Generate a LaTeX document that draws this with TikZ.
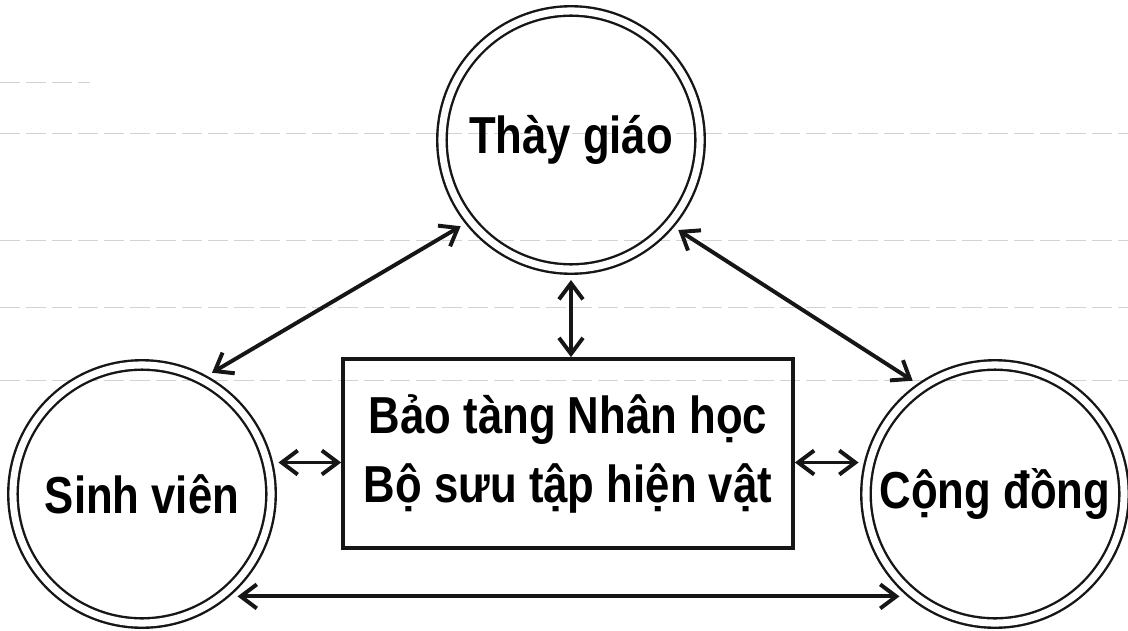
\documentclass[tikz,border=0pt]{standalone}
\usepackage{fontspec}
\setmainfont{Liberation Sans}[FakeStretch=0.84]
\usepackage{xcolor}
\usepackage{tikz}
\usetikzlibrary{arrows.meta}
\definecolor{ink}{HTML}{161616}
\definecolor{faint}{HTML}{D2D2D2}
\tikzset{
  ring/.style={circle, draw=ink, line width=1.7pt, double=white, double distance=5pt,
    minimum size=6.45cm, inner sep=0pt, outer sep=0.275cm, font=\labfont},
  museum/.style={rectangle, draw=ink, line width=2.6pt, minimum width=11.25cm,
    minimum height=4.725cm, align=center, font=\labfont},
  link/.style={draw=ink, line width=2.8pt, {Straight Barb[length=0.4cm,width=0.6cm]}-{Straight Barb[length=0.4cm,width=0.6cm]}},
  rule/.style={draw=faint, line width=0.6pt, dash pattern=on 0.5cm off 0.15cm},
}
\newcommand{\labfont}{\bfseries\fontsize{37}{49}\selectfont}

\begin{document}
\begin{tikzpicture}[x=0.025cm, y=-0.025cm]
  \useasboundingbox (0,0) rectangle (1128,630);
  \draw[rule] (0,82) -- (90,82);
  \foreach \h in {133,240,307,380}
    \draw[rule] (0,\h) -- (1128,\h);
  \node[ring] (tg) at (571,140) {Thày giáo};
  \node[ring] (sv) at (142,494) {Sinh viên};
  \node[ring] (cd) at (995,494) {Cộng đồng};
  \node[museum] (bt) at (568,453.5) {Bảo tàng Nhân học\\Bộ sưu tập hiện vật};
  \draw[link] (sv.60) -- (tg.218);
  \draw[link] (tg.320) -- (cd.126);
  \draw[link] (tg.south) -- (tg.south |- bt.north);
  \draw[link] (sv.13) -- (sv.13 -| bt.west);
  \draw[link] (cd.167) -- (cd.167 -| bt.east);
  \draw[link] (sv.-47) -- (cd.227);
\end{tikzpicture}
\end{document}
